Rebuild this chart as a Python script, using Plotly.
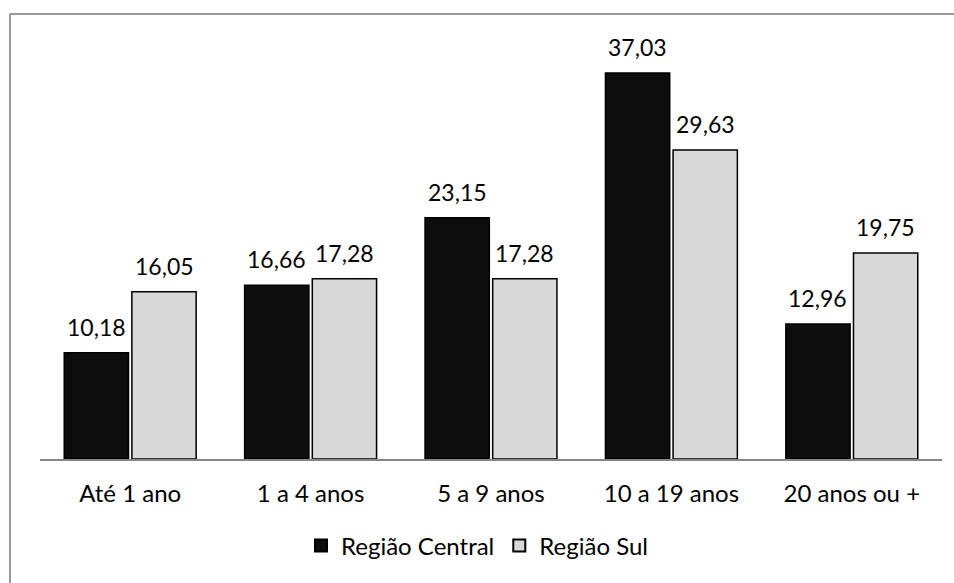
import plotly.graph_objects as go

categories = ["Até 1 ano", "1 a 4 anos", "5 a 9 anos", "10 a 19 anos", "20 anos ou +"]
central = [10.18, 16.66, 23.15, 37.03, 12.96]
sul = [16.05, 17.28, 17.28, 29.63, 19.75]
series_names = ["Região Central", "Região Sul"]

def fmt(v):
    return f"{v:.2f}".replace(".", ",")

W, H = 954, 583
ML, MR, MT, MB = 40, 12, 42, 124
font = "Lato, Noto Sans, sans-serif"
FS = 24
LFS = 23
BARGAP = 0.25
GROUPGAP = 0.05

fig = go.Figure()
fig.add_trace(go.Bar(
    x=categories, y=central, name=series_names[0],
    marker=dict(color="#0d0d0d", line=dict(color="#000000", width=1.5)),
))
fig.add_trace(go.Bar(
    x=categories, y=sul, name=series_names[1],
    marker=dict(color="#d9d9d9", line=dict(color="#000000", width=1.5)),
))

pw = W - ML - MR
ph = H - MT - MB
slot = pw / len(categories) * (1 - BARGAP) / 2
annotations = []
for vals, sign in ((central, -1), (sul, 1)):
    for c, v in zip(categories, vals):
        annotations.append(dict(
            x=c, y=v, xref="x", yref="y", text=fmt(v), showarrow=False,
            xanchor="center", yanchor="bottom", xshift=sign * slot / 2, yshift=10,
            font=dict(size=LFS, color="#000000", family=font),
        ))

bx = (10 - ML) / pw
by = (H - MB - 14) / ph

fig.update_layout(
    width=W, height=H,
    margin=dict(l=ML, r=MR, t=MT, b=MB, autoexpand=False),
    paper_bgcolor="white", plot_bgcolor="white",
    barmode="group", bargap=BARGAP, bargroupgap=GROUPGAP,
    font=dict(family=font, size=FS, color="#000000"),
    xaxis=dict(showline=True, linecolor="#868686", linewidth=1.5, ticks="",
               tickfont=dict(size=FS), showgrid=False, ticklabelstandoff=12),
    yaxis=dict(range=[0, 40], visible=False, showgrid=False),
    showlegend=True,
    legend=dict(orientation="h", xref="container", x=0.5, xanchor="center",
                yref="container", y=0.025, yanchor="bottom",
                font=dict(size=FS), itemsizing="constant", traceorder="normal",
                itemwidth=30),
    annotations=annotations,
    shapes=[
        dict(type="line", xref="paper", yref="paper", x0=bx, x1=bx, y0=-1, y1=by,
             line=dict(color="#999999", width=2)),
        dict(type="line", xref="paper", yref="paper", x0=bx, x1=1.2, y0=by, y1=by,
             line=dict(color="#999999", width=2)),
    ],
)
fig.write_html("out.html")
